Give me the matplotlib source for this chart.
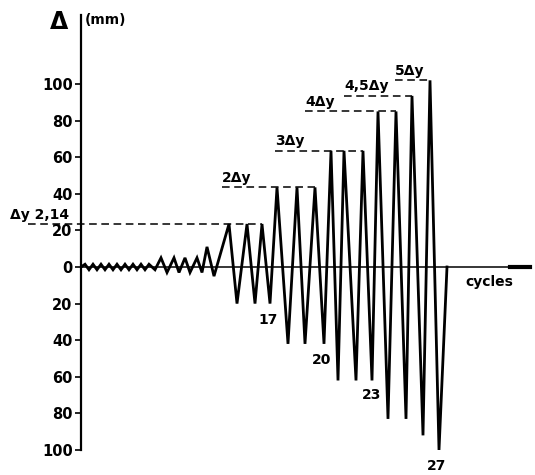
import matplotlib
matplotlib.use("Agg")
import matplotlib.pyplot as plt

# loading history: time (arbitrary units) and imposed displacement (mm)
t_pts = [0.0,
         0.4, 0.8, 1.2, 1.6, 2.0, 2.4, 2.8, 3.2, 3.6, 4.0, 4.4, 4.8, 5.2, 5.6, 6.0, 6.4, 6.8, 7.4,
         8.0, 8.6, 9.3, 9.8, 10.4, 10.9, 11.6, 12.1, 12.6, 13.3,
         14.8, 15.6, 16.6, 17.4, 18.1, 18.9,
         19.6, 20.7, 21.6, 22.4, 23.4, 24.3,
         25.0, 25.7, 26.3, 27.5, 28.2, 29.1,
         29.7, 30.7, 31.5, 32.5,
         33.1, 34.2,
         34.9, 35.8,
         36.6]
d_pts = [0,
         1.5, -1.5, 1.5, -1.5, 1.5, -1.5, 1.5, -1.5, 1.5, -1.5, 1.5, -1.5, 1.5, -1.5, 1.5, -1.5, 1.5, -1.5,
         5, -3, 5, -3, 5, -3, 5, -3, 11, -5,
         23.5, -20, 23.5, -20, 23.5, -20,
         43.5, -42, 43.5, -42, 43.5, -42,
         63.5, -62, 63.5, -62, 63.5, -62,
         85, -83, 85, -83,
         93.5, -92,
         102, -100,
         0]

# amplitude levels: label, level, start of dashed line, last peak time
level_labels = ["2Δy", "3Δy", "4Δy", "4,5Δy", "5Δy"]
level_values = [43.5, 63.5, 85, 93.5, 102]
level_start = [14.1, 19.4, 22.4, 26.3, 31.4]
level_end = [23.4, 28.2, 31.5, 33.1, 34.9]

# cycle numbers written under some troughs
cycle_labels = ["17", "20", "23", "27"]
cycle_x = [18.7, 24.1, 29.1, 35.6]
cycle_y = [-29, -51, -70, -109]

yticks = [-100, -80, -60, -40, -20, 0, 20, 40, 60, 80, 100]

plt.rcParams['font.family'] = ['DejaVu Sans']
plt.rcParams['font.weight'] = 'bold'

fig = plt.figure(figsize=(5.35, 4.75), dpi=100)
ax = fig.add_axes([81 / 535, 25 / 475, 449 / 535, 435 / 475])
ax.set_xlim(0, 44.9)
ax.set_ylim(-100, 137.7)

ax.plot(t_pts, d_pts, color='black', linewidth=2.0, solid_joinstyle='miter')

# zero line with arrow end
ax.axhline(0, color='black', linewidth=1.1)
ax.plot([42.9, 44.9], [0, 0], color='black', linewidth=3.0, clip_on=False)

# yield displacement line
ax.plot([-5.3, 18.1], [23.5, 23.5], color='black', linewidth=1.1,
        dashes=(5, 3), clip_on=False)
ax.text(-7.1, 24.8, "Δy 2,14", fontsize=10, ha='left', va='bottom')

for lab, val, x0, x1 in zip(level_labels, level_values, level_start, level_end):
    ax.plot([x0, x1], [val, val], color='black', linewidth=1.1, dashes=(5, 3))
    ax.text(x0, val + 1.5, lab, fontsize=10, ha='left', va='bottom')

for lab, x, y in zip(cycle_labels, cycle_x, cycle_y):
    ax.text(x, y, lab, fontsize=10, ha='center', va='center')

ax.text(38.4, -8, "cycles", fontsize=10, ha='left', va='center')

# axis styling
for s in ['top', 'right', 'bottom']:
    ax.spines[s].set_visible(False)
ax.spines['left'].set_linewidth(1.6)
ax.set_xticks([])
ax.set_yticks(yticks)
ax.set_yticklabels([str(abs(v)) for v in yticks], fontsize=10.5)
ax.tick_params(axis='y', direction='out', length=4, width=1.2, pad=2)

fig.text(50 / 535, 1 - 22 / 475, "Δ", fontsize=17, ha='left', va='center')
fig.text(85 / 535, 1 - 20 / 475, "(mm)", fontsize=10, ha='left', va='center')

fig.savefig("out.png", dpi=100)
